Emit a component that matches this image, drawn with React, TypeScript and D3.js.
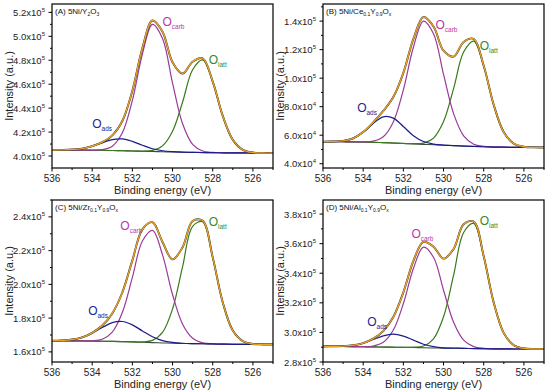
import React from 'react';
import * as d3 from 'd3';

// Binding energy grid (eV)
const energy = [536, 535.5, 535, 534.5, 534, 533.5, 533, 532.5, 532, 531.5, 531, 530.5, 530, 529.5, 529, 528.5, 528, 527.5, 527, 526.5, 526, 525.5, 525];

// Panel A: 5Ni/Y2O3 (units 1e5), components are heights above the background
const aBase = [4.050, 4.050, 4.050, 4.049, 4.048, 4.047, 4.046, 4.044, 4.042, 4.040, 4.038, 4.036, 4.034, 4.032, 4.031, 4.029, 4.028, 4.027, 4.026, 4.026, 4.025, 4.025, 4.025];
const aAds = [0, 0.001, 0.004, 0.013, 0.033, 0.063, 0.091, 0.099, 0.081, 0.050, 0.023, 0.008, 0.002, 0, 0, 0, 0, 0, 0, 0, 0, 0, 0];
const aCarb = [0, 0, 0, 0, 0.001, 0.006, 0.036, 0.150, 0.423, 0.812, 1.062, 0.946, 0.575, 0.238, 0.067, 0.013, 0.002, 0, 0, 0, 0, 0, 0];
const aLatt = [0, 0, 0, 0, 0, 0, 0, 0, 0, 0.001, 0.009, 0.049, 0.173, 0.419, 0.690, 0.774, 0.592, 0.308, 0.109, 0.026, 0.004, 0, 0];

// Panel B: 5Ni/Ce0.1Y0.9Ox (units 1e4)
const bBase = [5.55, 5.55, 5.54, 5.53, 5.52, 5.50, 5.48, 5.45, 5.42, 5.39, 5.36, 5.33, 5.30, 5.27, 5.24, 5.21, 5.19, 5.17, 5.16, 5.15, 5.15, 5.14, 5.14];
const bAds = [0.002, 0.012, 0.065, 0.251, 0.686, 1.324, 1.810, 1.748, 1.194, 0.577, 0.197, 0.048, 0.008, 0.001, 0, 0, 0, 0, 0, 0, 0, 0, 0];
const bCarb = [0, 0, 0, 0.001, 0.011, 0.080, 0.410, 1.479, 3.76, 6.78, 8.64, 7.78, 4.96, 2.24, 0.713, 0.161, 0.026, 0.003, 0, 0, 0, 0, 0];
const bLatt = [0, 0, 0, 0, 0, 0, 0, 0, 0, 0.012, 0.089, 0.466, 1.654, 4.00, 6.59, 7.39, 5.65, 2.94, 1.043, 0.253, 0.042, 0.004, 0];

// Panel C: 5Ni/Zr0.1Y0.9Ox (units 1e5)
const cBase = [1.666, 1.666, 1.665, 1.665, 1.664, 1.663, 1.662, 1.661, 1.659, 1.657, 1.655, 1.653, 1.651, 1.650, 1.649, 1.648, 1.647, 1.646, 1.645, 1.645, 1.644, 1.644, 1.644];
const cAds = [0, 0.002, 0.008, 0.021, 0.047, 0.081, 0.111, 0.119, 0.101, 0.067, 0.035, 0.014, 0.005, 0.001, 0, 0, 0, 0, 0, 0, 0, 0, 0];
const cCarb = [0, 0, 0, 0, 0.002, 0.012, 0.055, 0.172, 0.382, 0.600, 0.665, 0.522, 0.289, 0.114, 0.032, 0.006, 0.001, 0, 0, 0, 0, 0, 0];
const cLatt = [0, 0, 0, 0, 0, 0, 0, 0, 0, 0.002, 0.013, 0.062, 0.203, 0.455, 0.695, 0.723, 0.512, 0.247, 0.081, 0.018, 0.003, 0, 0];

// Panel D: 5Ni/Al0.1Y0.9Ox (units 1e5)
const dBase = [2.905, 2.905, 2.905, 2.904, 2.903, 2.902, 2.901, 2.900, 2.899, 2.898, 2.896, 2.895, 2.894, 2.893, 2.892, 2.891, 2.890, 2.889, 2.889, 2.888, 2.888, 2.888, 2.888];
const dAds = [0, 0.001, 0.002, 0.009, 0.024, 0.050, 0.076, 0.088, 0.076, 0.050, 0.024, 0.009, 0.002, 0.001, 0, 0, 0, 0, 0, 0, 0, 0, 0];
const dCarb = [0, 0, 0, 0, 0.001, 0.006, 0.032, 0.116, 0.296, 0.534, 0.680, 0.613, 0.391, 0.176, 0.056, 0.013, 0.002, 0, 0, 0, 0, 0, 0];
const dLatt = [0, 0, 0, 0, 0, 0, 0, 0, 0, 0.002, 0.012, 0.062, 0.212, 0.494, 0.783, 0.845, 0.622, 0.311, 0.106, 0.025, 0.004, 0, 0];

// Axis ticks
const xTicks = [536, 534, 532, 530, 528, 526];
const xMinor = [535, 533, 531, 529, 527, 525];
const aYTicks = [4.0, 4.2, 4.4, 4.6, 4.8, 5.0, 5.2];
const aYLabels = ['4.0', '4.2', '4.4', '4.6', '4.8', '5.0', '5.2'];
const aYExp = ['5', '5', '5', '5', '5', '5', '5'];
const bYTicks = [4, 6, 8, 10, 12, 14];
const bYLabels = ['4.0', '6.0', '8.0', '1.0', '1.2', '1.4'];
const bYExp = ['4', '4', '4', '5', '5', '5'];
const cYTicks = [1.6, 1.8, 2.0, 2.2, 2.4];
const cYLabels = ['1.6', '1.8', '2.0', '2.2', '2.4'];
const cYExp = ['5', '5', '5', '5', '5'];
const dYTicks = [2.8, 3.0, 3.2, 3.4, 3.6, 3.8];
const dYLabels = ['2.8', '3.0', '3.2', '3.4', '3.6', '3.8'];
const dYExp = ['5', '5', '5', '5', '5', '5'];

const titleA: [string, boolean][] = [['(A) 5Ni/Y', false], ['2', true], ['O', false], ['3', true]];
const titleB: [string, boolean][] = [['(B) 5Ni/Ce', false], ['0.1', true], ['Y', false], ['0.9', true], ['O', false], ['x', true]];
const titleC: [string, boolean][] = [['(C) 5Ni/Zr', false], ['0.1', true], ['Y', false], ['0.9', true], ['O', false], ['x', true]];
const titleD: [string, boolean][] = [['(D) 5Ni/Al', false], ['0.1', true], ['Y', false], ['0.9', true], ['O', false], ['x', true]];

const COL_ADS = '#1c1c8c';
const COL_CARB = '#9a3a98';
const COL_LATT = '#3a7a1c';
const COL_ENV = '#e8a428';
const COL_BASE = '#3a4a3a';
const TXT_ADS = '#242490';
const TXT_CARB = '#b83aa4';
const TXT_LATT = '#2f8a2a';
const FONT = '"Liberation Sans", Arial, Helvetica, sans-serif';

type PanelCfg = {
  id: string;
  left: number; right: number; top: number; bottom: number;
  yDomain: [number, number];
  base: number[]; ads: number[]; carb: number[]; latt: number[];
  yTicks: number[]; yLabels: string[]; yExp: string[];
  title: [string, boolean][];
  adsPos: [number, number]; carbPos: [number, number]; lattPos: [number, number];
};

const panels: PanelCfg[] = [
  { id: 'A', left: 52, right: 273, top: 4, bottom: 168, yDomain: [3.9, 5.27], base: aBase, ads: aAds, carb: aCarb, latt: aLatt,
    yTicks: aYTicks, yLabels: aYLabels, yExp: aYExp, title: titleA,
    adsPos: [534.0, 4.23], carbPos: [530.5, 5.09], lattPos: [528.2, 4.77] },
  { id: 'B', left: 323, right: 544, top: 4, bottom: 168, yDomain: [3.7, 15.2], base: bBase, ads: bAds, carb: bCarb, latt: bLatt,
    yTicks: bYTicks, yLabels: bYLabels, yExp: bYExp, title: titleB,
    adsPos: [534.3, 7.66], carbPos: [530.4, 13.46], lattPos: [528.2, 11.97] },
  { id: 'C', left: 52, right: 273, top: 200, bottom: 362, yDomain: [1.54, 2.5], base: cBase, ads: cAds, carb: cCarb, latt: cLatt,
    yTicks: cYTicks, yLabels: cYLabels, yExp: cYExp, title: titleC,
    adsPos: [534.2, 1.82], carbPos: [532.6, 2.32], lattPos: [528.2, 2.346] },
  { id: 'D', left: 323, right: 544, top: 200, bottom: 362, yDomain: [2.8, 3.895], base: dBase, ads: dAds, carb: dCarb, latt: dLatt,
    yTicks: dYTicks, yLabels: dYLabels, yExp: dYExp, title: titleD,
    adsPos: [533.8, 3.044], carbPos: [531.6, 3.637], lattPos: [528.2, 3.723] },
];

function OLabel({ x, y, sub, color }: { x: number; y: number; sub: string; color: string }) {
  return (
    <text x={x} y={y} fill={color} fontFamily={FONT} fontSize={12}>
      O<tspan fontSize={6.5} dy={3}>{sub}</tspan>
    </text>
  );
}

function Panel({ p }: { p: PanelCfg }) {
  const x = d3.scaleLinear().domain([536, 525]).range([p.left, p.right]);
  const y = d3.scaleLinear().domain(p.yDomain).range([p.bottom, p.top]);
  const line = d3.line<number>()
    .x((_, i) => x(energy[i]))
    .y((v) => y(v))
    .curve(d3.curveCatmullRom.alpha(0.5));
  const withBase = (arr: number[]) => arr.map((v, i) => v + p.base[i]);
  const envelope = energy.map((_, i) => p.base[i] + p.ads[i] + p.carb[i] + p.latt[i]);
  const clipId = 'clip' + p.id;
  const step = p.yTicks[1] - p.yTicks[0];
  const yMinor = p.yTicks.map((t) => t + step / 2).filter((t) => t <= p.yDomain[1]);
  const midX = (p.left + p.right) / 2;
  const midY = (p.top + p.bottom) / 2;
  return (
    <g>
      <defs>
        <clipPath id={clipId}>
          <rect x={p.left} y={p.top} width={p.right - p.left} height={p.bottom - p.top} />
        </clipPath>
      </defs>
      <g clipPath={`url(#${clipId})`} fill="none" strokeLinejoin="round">
        <path d={line(p.base) || ''} stroke={COL_BASE} strokeWidth={1.1} />
        <path d={line(withBase(p.latt)) || ''} stroke={COL_LATT} strokeWidth={1.2} />
        <path d={line(withBase(p.carb)) || ''} stroke={COL_CARB} strokeWidth={1.2} />
        <path d={line(withBase(p.ads)) || ''} stroke={COL_ADS} strokeWidth={1.2} />
        <path d={line(envelope) || ''} stroke="#2a2a2a" strokeWidth={1.9} />
        <path d={line(envelope) || ''} stroke={COL_ENV} strokeWidth={1.4} />
      </g>
      <rect x={p.left} y={p.top} width={p.right - p.left} height={p.bottom - p.top} fill="none" stroke="#000" strokeWidth={1.2} />
      {xTicks.map((t) => (
        <g key={'xt' + t}>
          <line x1={x(t)} x2={x(t)} y1={p.bottom} y2={p.bottom + 3.5} stroke="#000" strokeWidth={1} />
          <text x={x(t)} y={p.bottom + 13.5} textAnchor="middle" fontFamily={FONT} fontSize={10} fill="#222">{t}</text>
        </g>
      ))}
      {xMinor.map((t) => (
        <line key={'xm' + t} x1={x(t)} x2={x(t)} y1={p.bottom} y2={p.bottom + 2} stroke="#000" strokeWidth={1} />
      ))}
      {p.yTicks.map((t, i) => (
        <g key={'yt' + t}>
          <line x1={p.left - 3.5} x2={p.left} y1={y(t)} y2={y(t)} stroke="#000" strokeWidth={1} />
          <text x={p.left - 7} y={y(t) + 3.5} textAnchor="end" fontFamily={FONT} fontSize={9.5} fill="#222">
            {p.yLabels[i]}x10<tspan fontSize={6} dy={-4}>{p.yExp[i]}</tspan>
          </text>
        </g>
      ))}
      {yMinor.map((t) => (
        <line key={'ym' + t} x1={p.left - 2} x2={p.left} y1={y(t)} y2={y(t)} stroke="#000" strokeWidth={1} />
      ))}
      <text x={p.left + 3} y={p.top + 10} fontFamily={FONT} fontSize={8} fill="#111">
        {p.title.map(([s, sub], i) => sub
          ? <tspan key={i} fontSize={5} dy={2}>{s}</tspan>
          : <tspan key={i} dy={i === 0 ? 0 : -2}>{s}</tspan>)}
      </text>
      <text x={midX} y={p.bottom + 26} textAnchor="middle" fontFamily={FONT} fontSize={11} fill="#222">Binding energy (eV)</text>
      <text transform={`translate(${p.left - 39},${midY}) rotate(-90)`} textAnchor="middle" fontFamily={FONT} fontSize={11} fill="#222">Intensity (a.u.)</text>
      <OLabel x={x(p.adsPos[0])} y={y(p.adsPos[1])} sub="ads" color={TXT_ADS} />
      <OLabel x={x(p.carbPos[0])} y={y(p.carbPos[1])} sub="carb" color={TXT_CARB} />
      <OLabel x={x(p.lattPos[0])} y={y(p.lattPos[1])} sub="latt" color={TXT_LATT} />
    </g>
  );
}

export default function App() {
  return (
    <svg width={550} height={391} viewBox="0 0 550 391" style={{ position: 'absolute', left: 0, top: 0, background: '#fff' }}>
      <rect x={0} y={0} width={550} height={391} fill="#fff" />
      {panels.map((p) => <Panel key={p.id} p={p} />)}
    </svg>
  );
}
